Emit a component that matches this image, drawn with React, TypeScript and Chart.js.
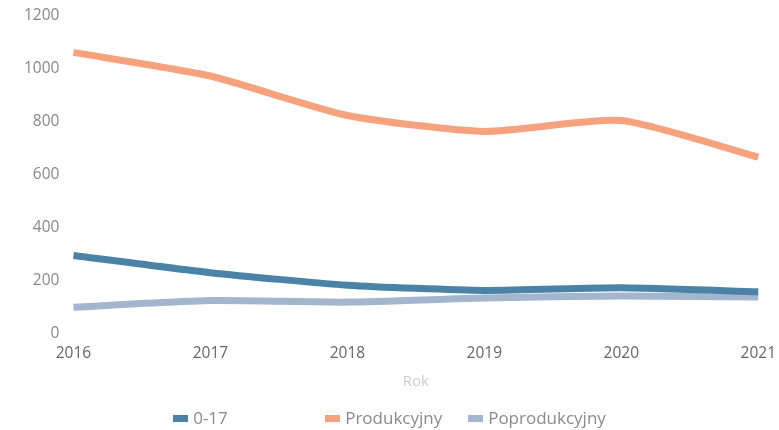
import React, { useEffect, useRef } from "react";
import { Chart, registerables } from "chart.js";

Chart.register(...registerables);

const years = ["2016", "2017", "2018", "2019", "2020", "2021"];
const age0to17 = [294, 229, 182, 162, 172, 157];
const produkcyjny = [1060, 971, 822, 762, 803, 665];
const poprodukcyjny = [99, 124, 118, 134, 141, 137];

const seriesNames = ["0-17", "Produkcyjny", "Poprodukcyjny"];
const seriesColors = ["#4A83A6", "#F7A27E", "#A3B6CE"];
const seriesData = [age0to17, produkcyjny, poprodukcyjny];
const legendSlotWidths = [152, 143];

const FONT = "'Open Sans', sans-serif";

export default function App() {
  const ref = useRef<HTMLCanvasElement | null>(null);
  useEffect(() => {
    document.body.style.margin = "0";
    const ctx = ref.current!.getContext("2d")!;
    const chart = new Chart(ctx, {
      type: "line",
      data: {
        labels: years,
        datasets: seriesNames.map((name, i) => ({
          label: name,
          data: seriesData[i],
          borderColor: seriesColors[i],
          backgroundColor: seriesColors[i],
          borderWidth: 7,
          pointRadius: 0,
          tension: 0.2,
        })),
      },
      options: {
        animation: false,
        responsive: false,
        layout: { padding: { top: 8, left: 18, right: 0, bottom: 39 } },
        plugins: {
          tooltip: { enabled: false },
          legend: { display: false },
        },
        scales: {
          x: {
            offset: false,
            grid: { display: false },
            border: { display: false },
            ticks: {
              color: "#666",
              padding: 3,
              maxRotation: 0,
              font: { family: FONT, size: 15.5 },
            },
            title: {
              display: true,
              text: "Rok",
              color: "#ccc",
              padding: { top: 7, bottom: 0 },
              font: { family: FONT, size: 15 },
            },
          },
          y: {
            min: 0,
            max: 1200,
            grid: { display: false },
            border: { display: false },
            ticks: {
              stepSize: 200,
              color: "#888",
              padding: 6,
              font: { family: FONT, size: 15.5 },
              callback: (v: any) => String(v),
            },
          },
        },
      },
    });
    return () => chart.destroy();
  }, []);
  return (
    <div style={{ position: "relative", width: 779, height: 430, overflow: "hidden" }}>
      <canvas ref={ref} width={779} height={430} style={{ display: "block" }} />
      <div
        style={{
          position: "absolute",
          left: 0,
          right: 0,
          top: 407,
          height: 22,
          lineHeight: "22px",
          display: "flex",
          justifyContent: "center",
          alignItems: "center",
          fontFamily: FONT,
          fontSize: 17,
          color: "#8a8a8a",
        }}
      >
        {seriesNames.map((name, i) => (
          <div
            key={name}
            style={{
              display: "flex",
              alignItems: "center",
              width: i < legendSlotWidths.length ? legendSlotWidths[i] : "auto",
            }}
          >
            <span
              style={{
                display: "inline-block",
                width: 15,
                height: 7,
                background: seriesColors[i],
                marginRight: 5,
              }}
            />
            <span>{name}</span>
          </div>
        ))}
      </div>
    </div>
  );
}
